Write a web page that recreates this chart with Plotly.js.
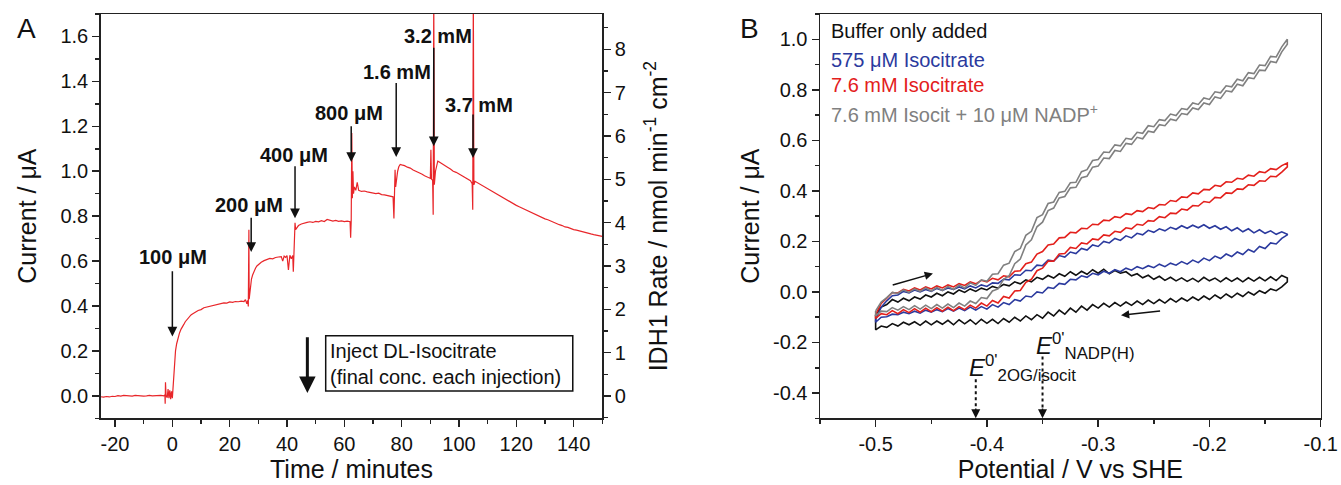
<!DOCTYPE html>
<html><head><meta charset="utf-8">
<script src="https://cdn.plot.ly/plotly-3.0.1.min.js"></script>
<style>html,body{margin:0;padding:0;background:#fff}#chart{width:1341px;height:485px}</style>
</head><body><div id="chart"></div>
<script>
// ---------- Panel A: chronoamperometry ----------
const timeMin = [-25,-24,-23,-22,-21,-20,-19,-18,-17,-16,-15,-14,-13,-12,-11,-10,-9,-8,-7,-6,-5,-4,-3,-2.6,-2.5,-2.4,-2.2,-1.8,-1.5,-1.2,-0.9,-0.6,-0.3,0,0.2,0.5,0.8,1.1,1.5,2,2.5,3,3.5,4,4.5,5,5.5,6,6.5,7,7.5,8,9,10,11,12,13,14,15,16,17,18,19,20,21,22,23,24,25,25.5,26,26.3,26.5,26.7,26.8,27,27.3,27.6,28,28.5,29,29.5,30,31,32,33,34,35,36,37,38,38.5,39,39.5,40,40.5,41,41.5,42,42.2,42.4,42.6,42.8,43,43.5,44,45,46,47,48,49,50,51,52,53,54,55,56,57,58,59,60,61,62,62.2,62.4,62.6,62.8,63,63.2,63.5,64,64.5,65,66,67,68,69,70,71,72,73,74,75,76,77,77.3,77.5,77.7,77.9,78.2,78.6,79,79.5,80,81,82,83,84,85,86,87,88,89,90,90.2,90.4,90.8,91,91.2,91.4,91.8,92.2,92.6,93,94,95,96,97,98,99,100,101,102,103,104,104.6,104.8,105,105.2,105.6,106,107,108,109,110,111,112,113,114,115,116,117,118,119,120,121,122,123,124,125,126,127,128,129,130,131,132,133,134,135,136,137,138,139,140,141,142,143,144,145,146,147,148,149,150];
const currentA = [-0.004,-0.006,-0.003,-0.005,-0.002,-0.003,0.001,-0.001,0.002,0.0,0.001,-0.001,0.002,0.0,0.001,-0.001,0.0,0.002,0.0,0.001,-0.001,0.002,0.0,0.004,-0.035,0.06,0.002,-0.008,0.03,-0.01,0.025,-0.015,0.02,-0.01,0.03,0.11,0.17,0.2,0.232,0.26,0.28,0.296,0.31,0.318,0.33,0.338,0.345,0.352,0.36,0.364,0.37,0.372,0.38,0.384,0.392,0.395,0.4,0.404,0.406,0.408,0.41,0.414,0.413,0.418,0.416,0.42,0.419,0.422,0.42,0.428,0.41,0.425,0.398,0.74,0.43,0.45,0.5,0.52,0.538,0.556,0.568,0.578,0.585,0.595,0.602,0.608,0.612,0.61,0.616,0.618,0.62,0.6,0.622,0.616,0.624,0.56,0.626,0.61,0.625,0.553,0.628,0.7,0.77,0.74,0.748,0.758,0.765,0.77,0.772,0.775,0.772,0.777,0.775,0.78,0.776,0.785,0.78,0.778,0.781,0.777,0.779,0.776,0.778,0.775,0.704,0.78,1.17,0.88,1.0,0.9,0.93,0.915,0.95,0.915,0.91,0.912,0.908,0.906,0.905,0.9,0.902,0.896,0.895,0.892,0.888,0.886,0.79,0.885,1.007,0.93,0.97,1.0,1.02,1.03,1.028,1.025,1.018,1.014,1.005,1.0,0.995,0.988,0.98,0.975,0.968,1.096,0.965,0.96,0.806,1.8,0.94,1.0,1.03,1.045,1.042,1.035,1.025,1.018,1.01,1.0,0.995,0.988,0.98,0.972,0.966,0.958,0.945,0.828,1.8,0.94,0.955,0.952,0.945,0.938,0.93,0.922,0.915,0.905,0.9,0.892,0.885,0.876,0.87,0.862,0.856,0.848,0.842,0.836,0.83,0.822,0.818,0.81,0.806,0.8,0.795,0.788,0.784,0.778,0.772,0.768,0.762,0.758,0.752,0.75,0.744,0.74,0.738,0.734,0.73,0.728,0.724,0.721,0.718,0.716,0.713,0.71];
const injTimes = [0, 27.5, 42.8, 62.4, 78.1, 91.2, 104.9];
const injLabels = ['100 \u03bcM','200 \u03bcM','400 \u03bcM','800 \u03bcM','1.6 mM','3.2 mM','3.7 mM'];
const timeTickVals = [-20,0,20,40,60,80,100,120,140];
const timeTickText = ['-20','0','20','40','60','80','100','120','140'];
const curTickVals = [0,0.2,0.4,0.6,0.8,1.0,1.2,1.4,1.6];
const curTickText = ['0.0','0.2','0.4','0.6','0.8','1.0','1.2','1.4','1.6'];
const rateTickVals = [0,1,2,3,4,5,6,7,8];

// ---------- Panel B: cyclic voltammetry ----------
const potential = [-0.5,-0.495,-0.49,-0.485,-0.48,-0.475,-0.47,-0.465,-0.46,-0.455,-0.45,-0.445,-0.44,-0.435,-0.43,-0.425,-0.42,-0.415,-0.41,-0.405,-0.4,-0.395,-0.39,-0.385,-0.38,-0.375,-0.37,-0.365,-0.36,-0.355,-0.35,-0.345,-0.34,-0.335,-0.33,-0.325,-0.32,-0.315,-0.31,-0.305,-0.3,-0.295,-0.29,-0.285,-0.28,-0.275,-0.27,-0.265,-0.26,-0.255,-0.25,-0.245,-0.24,-0.235,-0.23,-0.225,-0.22,-0.215,-0.21,-0.205,-0.2,-0.195,-0.19,-0.185,-0.18,-0.175,-0.17,-0.165,-0.16,-0.155,-0.15,-0.145,-0.14,-0.135,-0.13];
const bufferUp = [-0.09,-0.06,-0.05,-0.03,-0.04,-0.025,-0.035,-0.02,-0.028,-0.012,-0.02,-0.005,-0.015,0.0,-0.008,0.008,-0.002,0.012,0.002,0.015,0.008,0.022,0.015,0.03,0.024,0.04,0.032,0.048,0.04,0.058,0.05,0.065,0.055,0.072,0.062,0.08,0.066,0.082,0.07,0.088,0.074,0.09,0.072,0.085,0.074,0.08,0.064,0.072,0.056,0.066,0.05,0.062,0.046,0.058,0.044,0.056,0.042,0.054,0.04,0.058,0.044,0.055,0.04,0.056,0.042,0.055,0.04,0.056,0.043,0.058,0.044,0.06,0.045,0.065,0.055];
const bufferDown = [-0.15,-0.135,-0.14,-0.125,-0.135,-0.12,-0.13,-0.118,-0.132,-0.115,-0.13,-0.115,-0.128,-0.112,-0.13,-0.11,-0.126,-0.11,-0.128,-0.108,-0.124,-0.108,-0.125,-0.105,-0.12,-0.1,-0.115,-0.095,-0.11,-0.09,-0.104,-0.08,-0.095,-0.072,-0.088,-0.064,-0.08,-0.056,-0.072,-0.05,-0.064,-0.045,-0.06,-0.042,-0.056,-0.04,-0.053,-0.036,-0.05,-0.032,-0.046,-0.03,-0.044,-0.026,-0.04,-0.024,-0.036,-0.02,-0.033,-0.016,-0.03,-0.012,-0.026,-0.008,-0.022,-0.005,-0.018,0.0,-0.012,0.005,-0.005,0.012,0.005,0.02,0.04];
const iso575Up = [-0.11,-0.06,-0.035,-0.015,-0.012,0.002,-0.004,0.008,0.0,0.01,0.002,0.014,0.006,0.016,0.01,0.02,0.012,0.024,0.016,0.028,0.022,0.036,0.034,0.05,0.048,0.068,0.066,0.086,0.084,0.106,0.104,0.126,0.122,0.144,0.138,0.158,0.152,0.172,0.166,0.186,0.18,0.2,0.194,0.212,0.204,0.222,0.214,0.232,0.226,0.244,0.236,0.25,0.242,0.256,0.248,0.262,0.252,0.264,0.254,0.266,0.252,0.262,0.248,0.258,0.242,0.254,0.238,0.25,0.234,0.246,0.232,0.242,0.228,0.238,0.228];
const iso575Down = [-0.12,-0.1,-0.098,-0.088,-0.09,-0.08,-0.086,-0.076,-0.084,-0.072,-0.08,-0.07,-0.078,-0.066,-0.076,-0.064,-0.074,-0.06,-0.072,-0.058,-0.068,-0.05,-0.06,-0.042,-0.05,-0.03,-0.036,-0.016,-0.02,0.0,-0.004,0.018,0.014,0.034,0.03,0.05,0.048,0.064,0.058,0.074,0.068,0.082,0.074,0.088,0.08,0.094,0.086,0.1,0.092,0.104,0.096,0.11,0.1,0.114,0.106,0.12,0.11,0.126,0.116,0.134,0.124,0.142,0.132,0.15,0.14,0.158,0.148,0.168,0.158,0.18,0.172,0.194,0.19,0.212,0.226];
const iso76Up = [-0.09,-0.045,-0.025,-0.002,-0.004,0.01,0.004,0.016,0.008,0.02,0.012,0.024,0.016,0.028,0.02,0.033,0.026,0.04,0.032,0.046,0.04,0.054,0.048,0.064,0.06,0.082,0.084,0.112,0.118,0.15,0.16,0.186,0.19,0.214,0.216,0.236,0.234,0.252,0.25,0.268,0.266,0.284,0.282,0.298,0.294,0.31,0.306,0.322,0.318,0.334,0.33,0.346,0.344,0.362,0.358,0.376,0.374,0.392,0.388,0.406,0.404,0.422,0.418,0.436,0.434,0.45,0.446,0.462,0.458,0.476,0.472,0.488,0.484,0.5,0.51];
const iso76Down = [-0.105,-0.086,-0.09,-0.074,-0.086,-0.07,-0.082,-0.066,-0.08,-0.064,-0.078,-0.062,-0.076,-0.06,-0.074,-0.058,-0.07,-0.052,-0.064,-0.044,-0.056,-0.034,-0.044,-0.018,-0.024,0.004,0.006,0.038,0.05,0.084,0.094,0.122,0.122,0.15,0.152,0.176,0.172,0.194,0.19,0.21,0.206,0.226,0.222,0.24,0.236,0.254,0.25,0.268,0.264,0.282,0.28,0.298,0.294,0.312,0.31,0.328,0.324,0.342,0.34,0.358,0.354,0.374,0.372,0.392,0.39,0.408,0.406,0.424,0.422,0.44,0.438,0.458,0.456,0.474,0.495];
const nadpUp = [-0.075,-0.04,-0.022,-0.002,-0.006,0.008,-0.002,0.012,0.002,0.016,0.004,0.018,0.006,0.022,0.01,0.028,0.016,0.036,0.026,0.048,0.042,0.07,0.072,0.106,0.114,0.16,0.172,0.224,0.24,0.294,0.306,0.35,0.356,0.394,0.398,0.432,0.434,0.476,0.484,0.52,0.524,0.554,0.552,0.582,0.578,0.608,0.604,0.632,0.628,0.658,0.654,0.682,0.678,0.704,0.698,0.726,0.722,0.748,0.742,0.768,0.762,0.792,0.788,0.816,0.812,0.842,0.836,0.868,0.864,0.898,0.896,0.932,0.93,0.97,1.0];
const nadpDown = [-0.095,-0.076,-0.078,-0.062,-0.072,-0.058,-0.07,-0.054,-0.068,-0.052,-0.066,-0.05,-0.064,-0.048,-0.062,-0.044,-0.056,-0.036,-0.046,-0.022,-0.026,0.004,0.012,0.05,0.064,0.112,0.13,0.186,0.206,0.258,0.276,0.322,0.332,0.372,0.378,0.412,0.414,0.452,0.458,0.494,0.498,0.53,0.528,0.56,0.556,0.588,0.584,0.612,0.606,0.636,0.632,0.662,0.658,0.684,0.678,0.706,0.702,0.728,0.722,0.748,0.742,0.772,0.766,0.796,0.792,0.822,0.816,0.848,0.844,0.878,0.876,0.912,0.908,0.95,0.98];
const cvNames = ['Buffer only added','575 \u03bcM Isocitrate','7.6 mM Isocitrate','7.6 mM Isocit + 10 \u03bcM NADP<sup>+</sup>'];
const potTickVals = [-0.5,-0.4,-0.3,-0.2,-0.1];
const potTickText = ['-0.5','-0.4','-0.3','-0.2','-0.1'];
const cvTickVals = [-0.4,-0.2,0,0.2,0.4,0.6,0.8,1.0];
const cvTickText = ['-0.4','-0.2','0.0','0.2','0.4','0.6','0.8','1.0'];
const e0Potentials = [-0.41, -0.35];
const e0Labels = ['<i>E</i><sup>0\'</sup><sub>2OG/isocit</sub>', '<i>E</i><sup>0\'</sup><sub>NADP(H)</sub>'];

// ---------- build ----------
const W = 1341, H = 485;
const cvColors = ['#111111', '#2b3a9e', '#e3201c', '#808080'];
const cvUps = [bufferUp, iso575Up, iso76Up, nadpUp];
const cvDowns = [bufferDown, iso575Down, iso76Down, nadpDown];

const traces = [];
traces.push({x: timeMin, y: currentA, xaxis: 'x', yaxis: 'y', mode: 'lines',
  line: {color: '#e8262a', width: 1.2}, hoverinfo: 'skip', name: 'current'});
// invisible trace to realise the right-hand axis
traces.push({x: [timeMin[0]], y: [0], xaxis: 'x', yaxis: 'y3', mode: 'markers',
  marker: {opacity: 0}, hoverinfo: 'skip', showlegend: false});
for (let k = 0; k < 4; k++) {
  const xs = potential.concat(potential.slice().reverse(), [potential[0]]);
  const ys = cvUps[k].concat(cvDowns[k].slice().reverse(), [cvUps[k][0]]);
  traces.push({x: xs, y: ys, xaxis: 'x2', yaxis: 'y2', mode: 'lines',
    line: {color: cvColors[k], width: 1.6}, name: cvNames[k], hoverinfo: 'skip'});
}

const axLine = {showline: true, linecolor: '#222', linewidth: 1.5, showgrid: false, zeroline: false,
  ticks: 'outside', ticklen: 7, tickwidth: 1.5, tickcolor: '#222',
  tickfont: {size: 20, color: '#111'}};
function minor(d) { return {ticks: 'outside', ticklen: 4, tickwidth: 1.5, tickcolor: '#222', dtick: d, tick0: 0, showgrid: false}; }

const yA = [(H - 418.3) / H, (H - 14) / H];
const layout = {
  width: W, height: H, margin: {l: 0, r: 0, t: 0, b: 0},
  paper_bgcolor: '#fff', plot_bgcolor: '#fff', showlegend: false,
  font: {family: 'Liberation Sans, Arial, sans-serif', color: '#111', size: 20},
  xaxis: Object.assign({}, axLine, {domain: [100.7 / W, 602.3 / W], anchor: 'y', range: [-25, 150], mirror: true,
    tickmode: 'array', tickvals: timeTickVals, ticktext: timeTickText, minor: minor(10),
    title: {text: 'Time / minutes', font: {size: 25}, standoff: 4}}),
  yaxis: Object.assign({}, axLine, {domain: yA, anchor: 'x', range: [-0.1, 1.7],
    tickmode: 'array', tickvals: curTickVals, ticktext: curTickText, minor: minor(0.1),
    title: {text: 'Current / \u03bcA', font: {size: 25}, standoff: 16}}),
  yaxis3: Object.assign({}, axLine, {overlaying: 'y', side: 'right', anchor: 'x', range: [-0.515, 8.814],
    tickmode: 'array', tickvals: rateTickVals, minor: minor(0.5),
    title: {text: 'IDH1 Rate / nmol min<sup>-1</sup> cm<sup>-2</sup>', font: {size: 25}, standoff: 24}}),
  xaxis2: Object.assign({}, axLine, {domain: [820 / W, 1320.7 / W], anchor: 'y2', range: [-0.55, -0.1], mirror: true,
    tickmode: 'array', tickvals: potTickVals, ticktext: potTickText, minor: minor(0.05),
    title: {text: 'Potential / V vs SHE', font: {size: 25}, standoff: 4}}),
  yaxis2: Object.assign({}, axLine, {domain: yA, anchor: 'x2', range: [-0.5, 1.1], mirror: true,
    tickmode: 'array', tickvals: cvTickVals, ticktext: cvTickText, minor: minor(0.1),
    title: {text: 'Current / \u03bcA', font: {size: 25}, standoff: 6}}),
  shapes: [], annotations: []
};

// Panel letters
layout.annotations.push({xref: 'paper', yref: 'paper', x: 26 / W, y: 1 - 28 / H, text: 'A', showarrow: false,
  font: {size: 28, color: '#111'}, xanchor: 'center', yanchor: 'middle'});
layout.annotations.push({xref: 'paper', yref: 'paper', x: 749 / W, y: 1 - 28 / H, text: 'B', showarrow: false,
  font: {size: 28, color: '#111'}, xanchor: 'center', yanchor: 'middle'});

// Injection labels and arrows (panel A)
const labelPos = [[0.15, 0.62], [26.6, 0.851], [42.4, 1.074], [61.8, 1.259], [78.2, 1.44], [92.7, 1.60], [106.9, 1.296]];
const arrowY = [[0.561, 0.264], [0.799, 0.64], [1.029, 0.791], [1.207, 1.041], [1.40, 1.063], [1.556, 1.111], [1.259, 1.059]];
for (let i = 0; i < injTimes.length; i++) {
  layout.annotations.push({xref: 'x', yref: 'y', x: labelPos[i][0], y: labelPos[i][1], text: '<b>' + injLabels[i] + '</b>',
    showarrow: false, font: {size: 20, color: '#111'}, xanchor: 'center', yanchor: 'middle'});
  layout.annotations.push({xref: 'x', yref: 'y', axref: 'x', ayref: 'y', x: injTimes[i], y: arrowY[i][1],
    ax: injTimes[i], ay: arrowY[i][0], text: '', showarrow: true, arrowhead: 2, arrowsize: 1.3, arrowwidth: 1.5,
    arrowcolor: '#111', standoff: 0, startstandoff: 0});
}
// Key box in panel A
layout.shapes.push({type: 'rect', xref: 'x', yref: 'y', x0: 53.5, x1: 139.7, y0: 0.022, y1: 0.267,
  line: {color: '#111', width: 1.5}, fillcolor: 'rgba(0,0,0,0)'});
layout.annotations.push({xref: 'x', yref: 'y', x: 54.3, y: 0.143, text: 'Inject DL-Isocitrate<br>(final conc. each injection)',
  showarrow: false, align: 'left', xanchor: 'left', yanchor: 'middle', font: {size: 20, color: '#111'}});
layout.annotations.push({xref: 'x', yref: 'y', axref: 'x', ayref: 'y', x: 47.1, y: 0.013, ax: 47.1, ay: 0.267,
  text: '', showarrow: true, arrowhead: 2, arrowsize: 1.1, arrowwidth: 3, arrowcolor: '#111', standoff: 0});

// Panel B legend text
const legY = [1.032, 0.919, 0.819, 0.708];
for (let k = 0; k < 4; k++) {
  layout.annotations.push({xref: 'x2', yref: 'y2', x: -0.542, y: legY[k], text: cvNames[k], showarrow: false,
    xanchor: 'left', yanchor: 'middle', font: {size: 20, color: cvColors[k]}});
}
// Sweep direction arrows
layout.annotations.push({xref: 'x2', yref: 'y2', axref: 'x2', ayref: 'y2', x: -0.4485, y: 0.073, ax: -0.486, ay: 0.026,
  text: '', showarrow: true, arrowhead: 2, arrowsize: 1.1, arrowwidth: 1.5, arrowcolor: '#111', standoff: 0});
layout.annotations.push({xref: 'x2', yref: 'y2', axref: 'x2', ayref: 'y2', x: -0.2795, y: -0.092, ax: -0.243, ay: -0.075,
  text: '', showarrow: true, arrowhead: 2, arrowsize: 1.1, arrowwidth: 1.5, arrowcolor: '#111', standoff: 0});
// Formal potentials
const e0Top = [-0.345, -0.255];
const e0TextPos = [[-0.418, -0.30], [-0.358, -0.215]];
for (let i = 0; i < 2; i++) {
  layout.shapes.push({type: 'line', xref: 'x2', yref: 'y2', x0: e0Potentials[i], x1: e0Potentials[i], y0: e0Top[i], y1: -0.46,
    line: {color: '#111', width: 2, dash: 'dot'}});
  layout.annotations.push({xref: 'x2', yref: 'y2', axref: 'x2', ayref: 'y2', x: e0Potentials[i], y: -0.5,
    ax: e0Potentials[i], ay: -0.455, text: '', showarrow: true, arrowhead: 2, arrowsize: 1.2, arrowwidth: 1.5,
    arrowcolor: '#111', standoff: 0});
  layout.annotations.push({xref: 'x2', yref: 'y2', x: e0TextPos[i][0], y: e0TextPos[i][1], text: e0Labels[i],
    showarrow: false, xanchor: 'left', yanchor: 'middle', font: {size: 24, color: '#111'}});
}

Plotly.newPlot('chart', traces, layout, {staticPlot: true, displayModeBar: false});
</script></body></html>
